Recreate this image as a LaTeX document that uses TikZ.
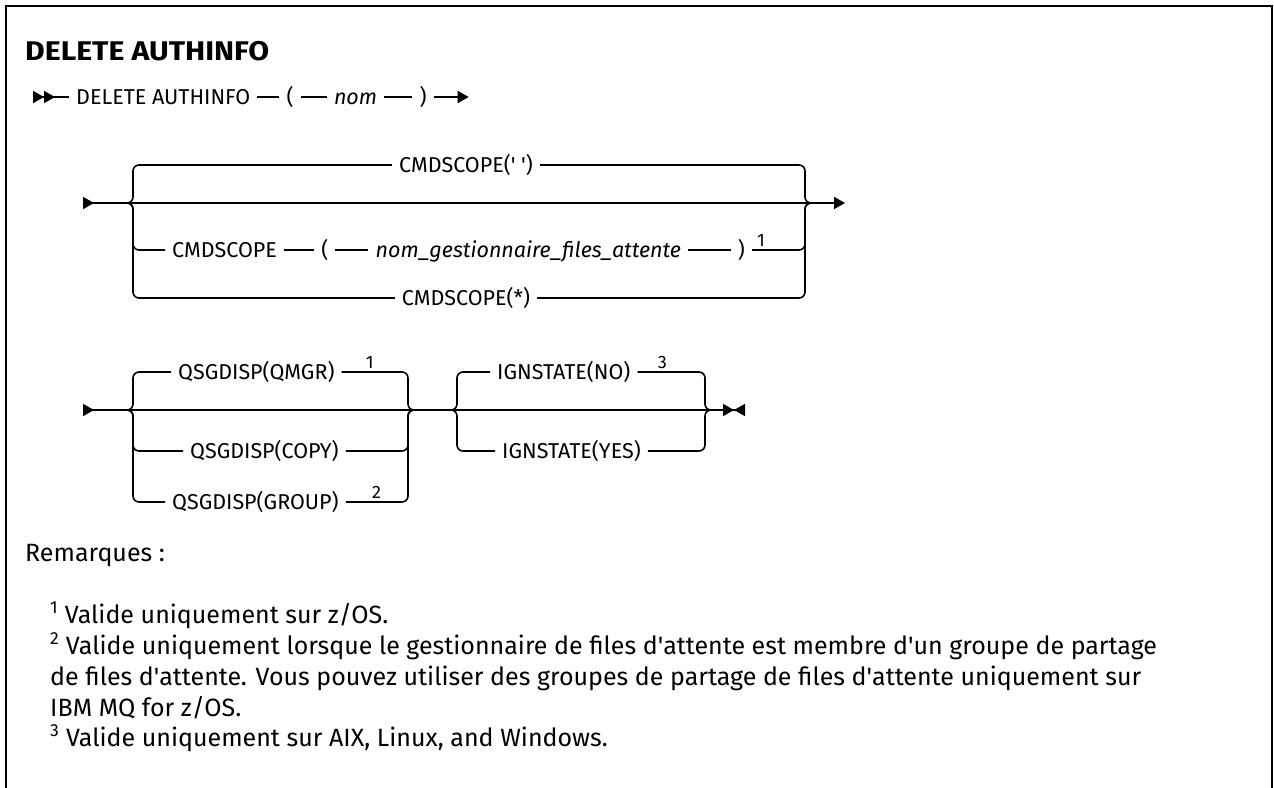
\documentclass[tikz,border=0pt]{standalone}
\usepackage{fontspec}
\setmainfont{Fira Sans}
\usetikzlibrary{positioning,arrows.meta}

\newcommand{\apos}{\textquotesingle}

\begin{document}
\begin{tikzpicture}[x=1pt, y=1pt, >={Triangle[length=11pt,width=12pt]},
  kw/.style={font=\fontsize{21.5}{24}\selectfont, inner xsep=7pt, inner ysep=0pt, text height=15pt, text depth=0pt},
  var/.style={kw, font=\fontsize{21.5}{24}\selectfont\itshape},
  fnote/.style={font=\fontsize{18}{18}\selectfont, inner sep=0pt},
  note/.style={font=\fontsize{25}{31}\selectfont, anchor=base west, inner sep=0pt},
  rail/.style={line width=1.6pt},
  coude/.style={rail, rounded corners=6pt}]

  \useasboundingbox (0,0) rectangle (1274,-787);

  % ==========================================
  % CADRE ET TITRE
  % ==========================================
  \draw[line width=2pt] (6,-800) -- (6,-6) -- (1272,-6) -- (1272,-800);
  \node[font=\fontsize{27}{30}\selectfont\bfseries\addfontfeatures{FakeStretch=1.12}, anchor=base west, inner sep=0pt] (titre) at (25,-60) {DELETE AUTHINFO};

  % ==========================================
  % LIGNE 1 : DELETE AUTHINFO ( nom )
  % ==========================================
  \coordinate (s1) at (33,-97);
  \node[kw, anchor=west] (delkw) at (69,-97) {DELETE AUTHINFO\hspace{24pt}};
  \node[kw, right=22pt of delkw] (lp) {(};
  \node[var, right=26pt of lp] (nom) {nom};
  \node[kw, right=28pt of nom] (rp) {)};
  \coordinate[right=35pt of rp] (e1);

  \draw[rail, >>-] (s1) -- (delkw);
  \draw[rail] (delkw) -- (lp);
  \draw[rail] (lp) -- (nom);
  \draw[rail] (nom) -- (rp);
  \draw[rail, ->] (rp) -- (e1);

  % ==========================================
  % LIGNE 2 : CMDSCOPE
  % ==========================================
  \coordinate (s2) at (83,-203);
  \coordinate (e2) at (845,-203);
  \coordinate (cl) at (133,-203);
  \coordinate (cr) at (805,-203);

  \node[kw] (cmdvide) at (466,-165) {CMDSCOPE(\apos\ \apos)};
  \node[kw, anchor=west] (cmd) at (165,-250) {CMDSCOPE};
  \node[kw, right=30pt of cmd] (clp) {(};
  \node[var, right=33pt of clp] (qmgrnom) {nom\_gestionnaire\_files\_attente\hspace{18pt}};
  \node[kw, anchor=east] (crp) at (752,-250) {)};
  \node[fnote, above right=3pt and 5pt of crp.east] (fn1c) {1};
  \node[kw] (cmdetoile) at (466,-298) {CMDSCOPE(*)};

  % chemin principal
  \draw[rail, >->] (s2) -- (e2);

  % branches (accolades arrondies)
  \draw[coude] (cl) ++(-8,0) -| (cl |- cmdvide) -- (cmdvide);
  \draw[coude] (cmdvide) -- (cr |- cmdvide) -- (cr) -- ++(8,0);
  \draw[coude] (cl) ++(-8,0) -| (cl |- cmd) -- (cmd);
  \draw[rail] (cmd) -- (clp);
  \draw[rail] (clp) -- (qmgrnom);
  \draw[rail] (qmgrnom) -- (crp);
  \draw[coude] (crp) -- (cr |- crp) -- (cr) -- ++(8,0);
  \draw[coude] (cl) ++(-8,0) -| (cl |- cmdetoile) -- (cmdetoile);
  \draw[coude] (cmdetoile) -- (cr |- cmdetoile) -- (cr) -- ++(8,0);

  % ==========================================
  % LIGNE 3 : QSGDISP ET IGNSTATE
  % ==========================================
  \coordinate (s3) at (83,-410);
  \coordinate (e3) at (745,-410);
  \coordinate (ql) at (133,-410);
  \coordinate (qr) at (408,-410);
  \coordinate (il) at (457,-410);
  \coordinate (ir) at (705,-410);

  \node[kw, anchor=west] (qmgr) at (171,-372) {QSGDISP(QMGR)};
  \node[fnote, above right=3pt and 24pt of qmgr.east] (fn1q) {1};
  \node[kw, anchor=west] (qcopy) at (183,-451) {QSGDISP(COPY)};
  \node[kw, anchor=west] (qgroup) at (165,-502) {QSGDISP(GROUP)};
  \node[fnote, above right=3pt and 26pt of qgroup.east] (fn2q) {2};
  \node[kw, anchor=west] (ignno) at (490,-372) {IGNSTATE(NO)};
  \node[fnote, above right=3pt and 20pt of ignno.east] (fn3i) {3};
  \node[kw, anchor=west] (ignyes) at (495,-451) {IGNSTATE(YES)};

  \draw[rail, >-><] (s3) -- (e3);

  \draw[coude] (ql) ++(-8,0) -| (ql |- qmgr) -- (qmgr);
  \draw[coude] (qmgr) -- (qr |- qmgr) -- (qr) -- ++(8,0);
  \draw[coude] (ql) ++(-8,0) -| (ql |- qcopy) -- (qcopy);
  \draw[coude] (qcopy) -- (qr |- qcopy) -- (qr) -- ++(8,0);
  \draw[coude] (ql) ++(-8,0) -| (ql |- qgroup) -- (qgroup);
  \draw[coude] (qgroup) -- (qr |- qgroup) -- (qr) -- ++(8,0);

  \draw[coude] (il) ++(-8,0) -| (il |- ignno) -- (ignno);
  \draw[coude] (ignno) -- (ir |- ignno) -- (ir) -- ++(8,0);
  \draw[coude] (il) ++(-8,0) -| (il |- ignyes) -- (ignyes);
  \draw[coude] (ignyes) -- (ir |- ignyes) -- (ir) -- ++(8,0);

  % ==========================================
  % REMARQUES
  % ==========================================
  \node[note] (rem) at (25,-561) {Remarques :};
  \node[note] (n1) at (50,-623) {\textsuperscript{1} Valide uniquement sur z/OS.};
  \node[note] (n2) at (50,-654) {\textsuperscript{2} Valide uniquement lorsque le gestionnaire de files d\apos attente est membre d\apos un groupe de partage};
  \node[note] (n2b) at (50,-685) {de files d\apos attente. Vous pouvez utiliser des groupes de partage de files d\apos attente uniquement sur};
  \node[note] (n2c) at (50,-716) {IBM MQ for z/OS.};
  \node[note] (n3) at (50,-746) {\textsuperscript{3} Valide uniquement sur AIX, Linux, and Windows.};

\end{tikzpicture}
\end{document}
